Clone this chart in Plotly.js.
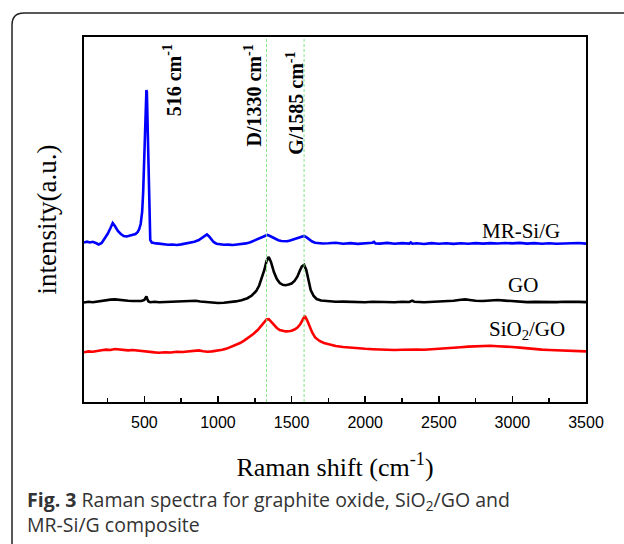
<!DOCTYPE html>
<html>
<head>
<meta charset="utf-8">
<script src="https://cdn.plot.ly/plotly-3.0.1.min.js"></script>
<style>html,body{margin:0;padding:0;background:#fff;}#chart{width:624px;height:544px;}</style>
</head>
<body>
<div id="chart"></div>
<script>
// MR-Si/G (blue)
const msiX = [90,110,130,150,170,190,210,230,250,270,285,300,320,340,360,380,400,420,440,455,465,475,485,492,498,504,510,514,517,520,524,528,532,536,540,550,560,580,600,630,660,690,720,750,780,810,840,870,890,910,925,940,955,970,990,1010,1040,1070,1100,1130,1160,1190,1220,1250,1280,1300,1320,1335,1350,1370,1390,1410,1430,1450,1470,1490,1510,1530,1550,1570,1585,1600,1620,1640,1660,1680,1710,1750,1800,1850,1900,1950,2000,2050,2060,2070,2100,2150,2200,2250,2300,2310,2320,2350,2400,2450,2500,2550,2600,2650,2700,2750,2800,2850,2900,2950,3000,3050,3100,3150,3200,3250,3300,3350,3400,3450,3500];
const msiY = [159.5,160.3,159.6,160.2,159,157.5,159,163,168,174,179,176,171,168,166,165.5,166.5,167,168,170,173,178,190,210,240,275,300,312,310,290,255,215,185,168,162,159.5,159,158.6,158.4,157.8,157.2,157.5,157.0,157.6,158.3,159.0,160.2,162.0,164.0,166.5,167.5,165.5,162.5,160,158.3,157.6,157.2,157.4,157.0,157.5,157.8,158.6,159.8,161.5,163.3,164.5,166,167,166.2,164.5,163,161.8,161,160.6,160.8,161.5,162.5,163.8,164.8,165.8,166,164.8,162.5,160.5,159.3,158.8,158.5,158.7,159.2,158.3,158.9,158.1,158.8,159.3,160.2,158.6,158.4,159.1,158.2,158.9,158.4,159.6,158.3,158.7,158.0,158.9,158.3,158.8,158.1,158.7,158.2,158.9,158.4,158.9,158.5,159.0,158.6,159.1,158.4,158.9,158.3,158.8,158.2,158.7,158.5,159.0,158.4];

// GO (black)
const goX = [90,120,150,180,210,240,270,300,330,360,390,420,450,480,500,508,514,520,528,540,570,600,650,700,750,800,850,880,910,950,1000,1040,1080,1120,1160,1200,1230,1260,1280,1300,1315,1330,1345,1360,1380,1400,1420,1440,1460,1480,1500,1520,1540,1555,1570,1585,1600,1615,1630,1650,1670,1700,1750,1800,1850,1900,1950,2000,2050,2100,2150,2200,2250,2300,2320,2335,2400,2450,2500,2550,2600,2650,2680,2710,2750,2800,2850,2900,2950,3000,3050,3100,3150,3200,3250,3300,3350,3400,3450,3500];
const goY = [99.5,100.2,99.8,100.6,101.2,101.8,102.4,102.6,102.0,101.6,101.2,101.0,100.8,101.0,102,104,105.5,103,100.5,99.8,100.2,99.7,100.1,100.4,100.8,100.6,101.2,100.5,100.0,99.5,99.0,99.2,99.8,100.6,101.8,103.8,106.5,111,116.5,124.5,132,141,145,140,130,123,119,117.2,116.8,117.5,118.5,121,125.5,131,135.5,137,132,122,112,106,103,101.5,100.6,100.2,100.4,100.0,100.3,99.8,100.2,99.9,100.1,99.7,100.2,100.0,101.4,100.2,99.8,100.1,100.3,100.6,101.2,102.2,102.6,102.0,101.2,101.0,101.6,102.0,101.4,100.7,100.2,99.9,100.1,99.8,100.1,99.9,100.2,99.8,100.1,99.9];

// SiO2/GO (red)
const sioX = [90,120,150,180,210,240,270,300,330,360,390,420,450,480,510,540,570,600,640,680,720,760,800,840,870,900,930,960,1000,1030,1060,1090,1120,1150,1180,1210,1240,1270,1295,1315,1330,1345,1360,1380,1400,1420,1440,1460,1480,1500,1520,1540,1560,1575,1590,1605,1620,1640,1660,1690,1720,1760,1800,1850,1900,1950,2000,2050,2100,2150,2200,2250,2300,2350,2400,2450,2500,2550,2600,2650,2700,2750,2800,2850,2900,2950,3000,3050,3100,3150,3200,3250,3300,3350,3400,3450,3500];
const sioY = [49.8,50.6,50.2,51.2,51.8,52.4,52.0,53.0,52.6,52.2,51.6,52.0,51.4,51.0,50.5,50.0,49.6,49.3,49.8,49.5,50.2,50.0,50.6,51.0,51.6,50.8,50.2,50.6,51.2,52.2,53.4,55.0,56.8,59.0,61.6,64.6,68.0,72.0,76.5,80.5,82.5,82.8,80.5,77,74,72,71,70.6,70.8,71.2,72.5,74.5,78,82.5,86,82,76,69.5,64.5,61,59,57.2,56,55,54.2,53.6,53.2,52.8,52.4,52.6,52.0,52.3,52.0,52.4,52.2,52.6,53.0,53.6,54.2,54.8,55.4,55.8,56.0,56.2,55.8,55.6,55.0,54.4,53.6,53.0,52.4,52.0,51.6,51.2,51.0,50.8,50.6];

const peakLines = [1330, 1585];
const xTickVals = [500,1000,1500,2000,2500,3000,3500];

const serif = "Liberation Serif, Times New Roman, serif";
const traces = [
  {x: msiX, y: msiY, mode: 'lines', line: {color: '#0000ff', width: 2.6}, name: 'MR-Si/G'},
  {x: goX, y: goY, mode: 'lines', line: {color: '#000000', width: 2.6}, name: 'GO'},
  {x: sioX, y: sioY, mode: 'lines', line: {color: '#ff0000', width: 2.6}, name: 'SiO2/GO'}
];

const shapes = peakLines.map(v => ({type: 'line', xref: 'x', yref: 'paper', x0: v, x1: v, y0: 0, y1: 1,
  line: {color: 'rgb(120,225,120)', width: 0.9, dash: '3px,2px'}}));
// card border (rounded top-left corner)
shapes.push({type: 'path', xref: 'paper', yref: 'paper', layer: 'above',
  path: 'M -0.1434,-0.45 L -0.1434,1.0329 Q -0.1434,1.0658 -0.1195,1.0658 L 1.1,1.0658',
  line: {color: '#222', width: 1.5}});

const annotations = [
  {x: 690, y: 322, xref: 'x', yref: 'y', text: '<b>516 cm<sup>-1</sup></b>', textangle: -90, showarrow: false, font: {family: serif, size: 20, color: '#000'}},
  {x: 1235, y: 306, xref: 'x', yref: 'y', text: '<b>D/1330 cm<sup>-1</sup></b>', textangle: -90, showarrow: false, font: {family: serif, size: 20, color: '#000'}},
  {x: 1522, y: 299, xref: 'x', yref: 'y', text: '<b>G/1585 cm<sup>-1</sup></b>', textangle: -90, showarrow: false, font: {family: serif, size: 20, color: '#000'}},
  {x: 3060, y: 171, xref: 'x', yref: 'y', text: 'MR-Si/G', showarrow: false, font: {family: serif, size: 21, color: '#000'}},
  {x: 3070, y: 117, xref: 'x', yref: 'y', text: 'GO', showarrow: false, font: {family: serif, size: 21, color: '#000'}},
  {x: 3100, y: 72, xref: 'x', yref: 'y', text: 'SiO<sub>2</sub>/GO', showarrow: false, font: {family: serif, size: 21, color: '#000'}},
  {x: -0.118, y: -0.225, xref: 'paper', yref: 'paper', xanchor: 'left', yanchor: 'top', align: 'left', showarrow: false,
   text: '<b>Fig. 3</b> Raman spectra for graphite oxide, SiO<sub>2</sub>/GO and<br>MR-Si/G composite',
   font: {family: 'Open Sans, sans-serif', size: 19.5, color: '#333'}}
];

const layout = {
  width: 624, height: 544,
  margin: {l: 84, r: 38, t: 37, b: 142},
  paper_bgcolor: '#fff', plot_bgcolor: '#fff',
  showlegend: false,
  xaxis: {
    range: [90, 3500], tickvals: xTickVals, ticks: 'inside', ticklen: 6, tickwidth: 1.5, tickcolor: '#000',
    minor: {dtick: 250, tick0: 0, ticks: 'inside', ticklen: 4, tickwidth: 1.5, tickcolor: '#000'},
    showline: true, linewidth: 2, linecolor: '#000', mirror: true, showgrid: false, zeroline: false,
    ticklabelstandoff: 5,
    tickfont: {family: 'Liberation Sans, Arial, sans-serif', size: 16, color: '#000'},
    title: {text: 'Raman shift (cm<sup>-1</sup>)', font: {family: serif, size: 26, color: '#000'}, standoff: 28}
  },
  yaxis: {
    range: [0, 365], showticklabels: false, ticks: '', showline: true, linewidth: 2, linecolor: '#000', mirror: true,
    showgrid: false, zeroline: false,
    title: {text: 'intensity(a.u.)', font: {family: serif, size: 27, color: '#000'}, standoff: 18}
  },
  shapes: shapes,
  annotations: annotations
};

Plotly.newPlot('chart', traces, layout, {displayModeBar: false, staticPlot: true});
</script>
</body>
</html>
